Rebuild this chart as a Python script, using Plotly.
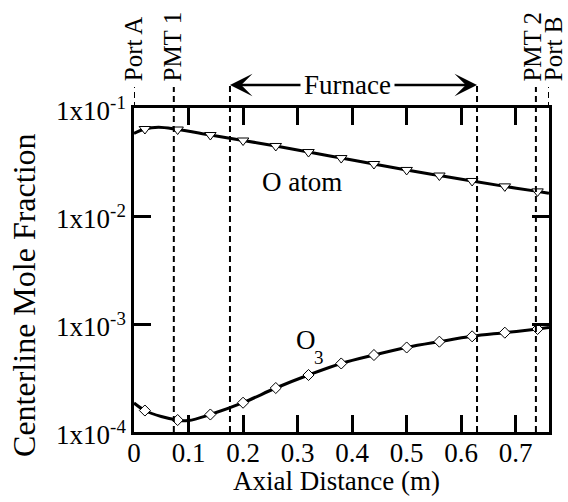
import numpy as np
import plotly.graph_objects as go

# Model curves (axial position in m, centerline mole fraction)
o_line_x = [0.0, 0.02, 0.045, 0.08, 0.14, 0.20, 0.26, 0.32, 0.38, 0.44, 0.50, 0.56, 0.62, 0.68, 0.74, 0.761]
o_line_y = [0.0581, 0.0639, 0.0663, 0.0632, 0.0562, 0.0500, 0.0445, 0.0391, 0.0344, 0.0303, 0.0267,
            0.0237, 0.0211, 0.0188, 0.0169, 0.0162]

o3_line_x = [0.0, 0.02, 0.05, 0.08, 0.10, 0.14, 0.20, 0.26, 0.32, 0.38, 0.44, 0.50, 0.56, 0.62, 0.68, 0.74, 0.761]
o3_line_y = [1.855e-4, 1.581e-4, 1.391e-4, 1.291e-4, 1.277e-4, 1.452e-4, 1.867e-4, 2.555e-4, 3.371e-4,
             4.31e-4, 5.16e-4, 6.06e-4, 6.86e-4, 7.69e-4, 8.31e-4, 8.99e-4, 9.28e-4]

# Sampled points shown as symbols
pts_x = [0.02, 0.08, 0.14, 0.20, 0.26, 0.32, 0.38, 0.44, 0.50, 0.56, 0.62, 0.68, 0.74]
o_pts = [0.0639, 0.0632, 0.0562, 0.0500, 0.0445, 0.0391, 0.0344, 0.0303, 0.0267, 0.0237, 0.0211, 0.0188, 0.0169]
o3_pts = [1.581e-4, 1.291e-4, 1.452e-4, 1.867e-4, 2.555e-4, 3.371e-4, 4.31e-4, 5.16e-4, 6.06e-4,
          6.86e-4, 7.69e-4, 8.31e-4, 8.99e-4]

# Reactor landmarks along the axis (m)
landmark_names = ["Port A", "PMT 1", "PMT 2", "Port B"]
landmark_x = [0.0, 0.073, 0.737, 0.761]
furnace_start = 0.176
furnace_end = 0.629

x_tickvals = [0, 0.1, 0.2, 0.3, 0.4, 0.5, 0.6, 0.7]
x_ticktext = ["0", "0.1", "0.2", "0.3", "0.4", "0.5", "0.6", "0.7"]
y_tickvals = [1e-4, 1e-3, 1e-2, 1e-1]
y_ticktext = ["1x10<sup>-4</sup>", "1x10<sup>-3</sup>", "1x10<sup>-2</sup>", "1x10<sup>-1</sup>"]

FONT = "Liberation Serif, Times New Roman, serif"
FS = 27
FS_LANDMARK = 25

fig = go.Figure()

for lx, ly in [(o_line_x, o_line_y), (o3_line_x, o3_line_y)]:
    fig.add_trace(go.Scatter(x=lx, y=ly, mode="lines", line=dict(color="black", width=3, shape="spline"),
                             showlegend=False, hoverinfo="skip"))

fig.add_trace(go.Scatter(x=pts_x, y=o_pts, mode="markers", showlegend=False,
                         marker=dict(symbol="triangle-down", size=10, color="white",
                                     line=dict(color="black", width=1))))
fig.add_trace(go.Scatter(x=pts_x, y=o3_pts, mode="markers", showlegend=False,
                         marker=dict(symbol="diamond", size=8.5, color="white",
                                     line=dict(color="black", width=1))))

dash = dict(color="black", width=2, dash="6px,4px")
# landmark lines run from above the frame down to the axis
for name, lx in zip(landmark_names, landmark_x):
    y0 = 1.0 if name.startswith("Port") else 0.0
    fig.add_shape(type="line", xref="x", yref="paper", x0=lx, x1=lx, y0=y0, y1=1.065, line=dash)
for fx in (furnace_start, furnace_end):
    fig.add_shape(type="line", xref="x", yref="paper", x0=fx, x1=fx, y0=0, y1=1.077, line=dash)

label_shift = {"Port A": -1, "PMT 1": -1, "PMT 2": -3, "Port B": 4}
for name, lx in zip(landmark_names, landmark_x):
    fig.add_annotation(x=lx, y=1.075, xref="x", yref="paper", text=name, textangle=-90,
                       showarrow=False, xanchor="center", yanchor="bottom", xshift=label_shift[name],
                       font=dict(family=FONT, size=FS_LANDMARK, color="black"))

# Furnace extent arrows
mid = (furnace_start + furnace_end) / 2
for head in (furnace_start, furnace_end):
    fig.add_annotation(x=head, y=1.071, xref="x", yref="paper", ax=mid, ay=0, axref="x", ayref="pixel",
                       text="", showarrow=True, arrowhead=3, arrowsize=1.5, arrowwidth=2.5,
                       arrowcolor="black", standoff=0, startstandoff=0)
fig.add_annotation(x=0.391, y=1.071, xref="x", yref="paper", text="Furnace", showarrow=False,
                   bgcolor="white", borderpad=3, xanchor="center", yanchor="middle",
                   font=dict(family=FONT, size=FS, color="black"))

# Series labels
fig.add_annotation(x=0.308, y=np.log10(0.0206), text="O atom", showarrow=False,
                   font=dict(family=FONT, size=FS, color="black"))
fig.add_annotation(x=0.3156, y=np.log10(7.1e-4), text="O", showarrow=False,
                   font=dict(family=FONT, size=FS, color="black"))
fig.add_annotation(x=0.340, y=np.log10(4.85e-4), text="3", showarrow=False,
                   font=dict(family=FONT, size=19, color="black"))

# Axis titles
fig.add_annotation(x=-0.265, y=0.42, xref="paper", yref="paper", text="Centerline Mole Fraction",
                   textangle=-90, showarrow=False, xanchor="center", yanchor="middle",
                   font=dict(family=FONT, size=32, color="black"))
fig.add_annotation(x=0.488, y=-0.152, xref="paper", yref="paper", text="Axial Distance (m)",
                   showarrow=False, xanchor="center", yanchor="middle",
                   font=dict(family=FONT, size=FS, color="black"))

axis_common = dict(showline=True, linecolor="black", linewidth=2.5, mirror="ticks", ticks="inside",
                   ticklen=17, tickwidth=2.5, tickcolor="black", showgrid=False, zeroline=False,
                   tickfont=dict(family=FONT, size=FS, color="black"))

fig.update_layout(
    width=568, height=502,
    margin=dict(l=134, r=19, t=108, b=70),
    plot_bgcolor="white", paper_bgcolor="white",
    xaxis=dict(range=[0, 0.761], tickvals=x_tickvals, ticktext=x_ticktext,
               ticklabelstandoff=-5, **axis_common),
    yaxis=dict(type="log", range=[-4, -1], tickvals=y_tickvals, ticktext=y_ticktext,
               ticklabelshift=3, **axis_common),
)

fig.write_html("out.html")
